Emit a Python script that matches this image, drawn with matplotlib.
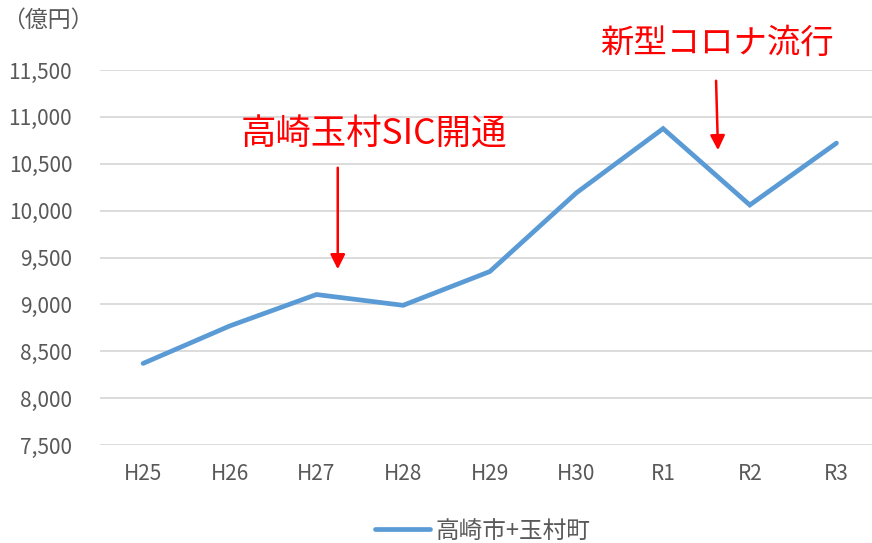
import matplotlib
matplotlib.use("Agg")
import matplotlib.pyplot as plt

plt.rcParams['font.family'] = ['Noto Sans CJK JP', 'DejaVu Sans']

categories = ["H25", "H26", "H27", "H28", "H29", "H30", "R1", "R2", "R3"]
values = [8370, 8770, 9105, 8990, 9350, 10190, 10875, 10060, 10720]
series_name = "高崎市+玉村町"
yticks = [7500, 8000, 8500, 9000, 9500, 10000, 10500, 11000, 11500]
unit_label = "（億円）"
note1 = "高崎玉村SIC開通"
note2 = "新型コロナ流行"

W, H = 872, 543
fig = plt.figure(figsize=(W/100, H/100), dpi=100)
ax = fig.add_axes([100/W, (H-445)/H, 1 - 100/W, (445-70)/H])

x = list(range(len(categories)))
ax.plot(x, values, color="#5B9BD5", lw=3.4, solid_capstyle="round",
        solid_joinstyle="miter", label=series_name, zorder=3)

ax.set_xlim(-0.497, 8.41)
ax.set_ylim(7500, 11500)
ax.set_yticks(yticks)
ax.set_yticklabels([f"{v:,}" for v in yticks])
ax.set_xticks(x)
ax.set_xticklabels(categories)
ax.grid(axis="y", color="#D9D9D9", lw=1.3)
ax.set_axisbelow(True)
for s in ax.spines.values():
    s.set_visible(False)
ax.tick_params(axis="both", length=0, labelsize=15, colors="#595959")
ax.tick_params(axis="y", pad=20)
ax.tick_params(axis="x", pad=13)

fig.text(2/W, 1 - 20/H, unit_label, fontsize=16.5, color="#595959", va="center", ha="left")

ax.annotate("", xy=(2.246, 9345), xytext=(2.246, 10487),
            arrowprops=dict(arrowstyle="-|>", color="#FF0000", lw=1.8, mutation_scale=22))
ax.annotate("", xy=(6.634, 10615), xytext=(6.61, 11415),
            arrowprops=dict(arrowstyle="-|>", color="#FF0000", lw=1.8, mutation_scale=22),
            annotation_clip=False)
ax.text(2.667, 10807, note1, fontsize=25.5, color="#FF0000", ha="center", va="center")
ax.text(6.622, 11788, note2, fontsize=24, color="#FF0000", ha="center", va="center", clip_on=False)

leg = ax.legend(loc="center", bbox_to_anchor=(483/W, 1 - 531/H), bbox_transform=fig.transFigure,
                frameon=False, fontsize=17, handlelength=2.3, handletextpad=0.25)
for t in leg.get_texts():
    t.set_color("#595959")

fig.savefig("out.png", dpi=100)
